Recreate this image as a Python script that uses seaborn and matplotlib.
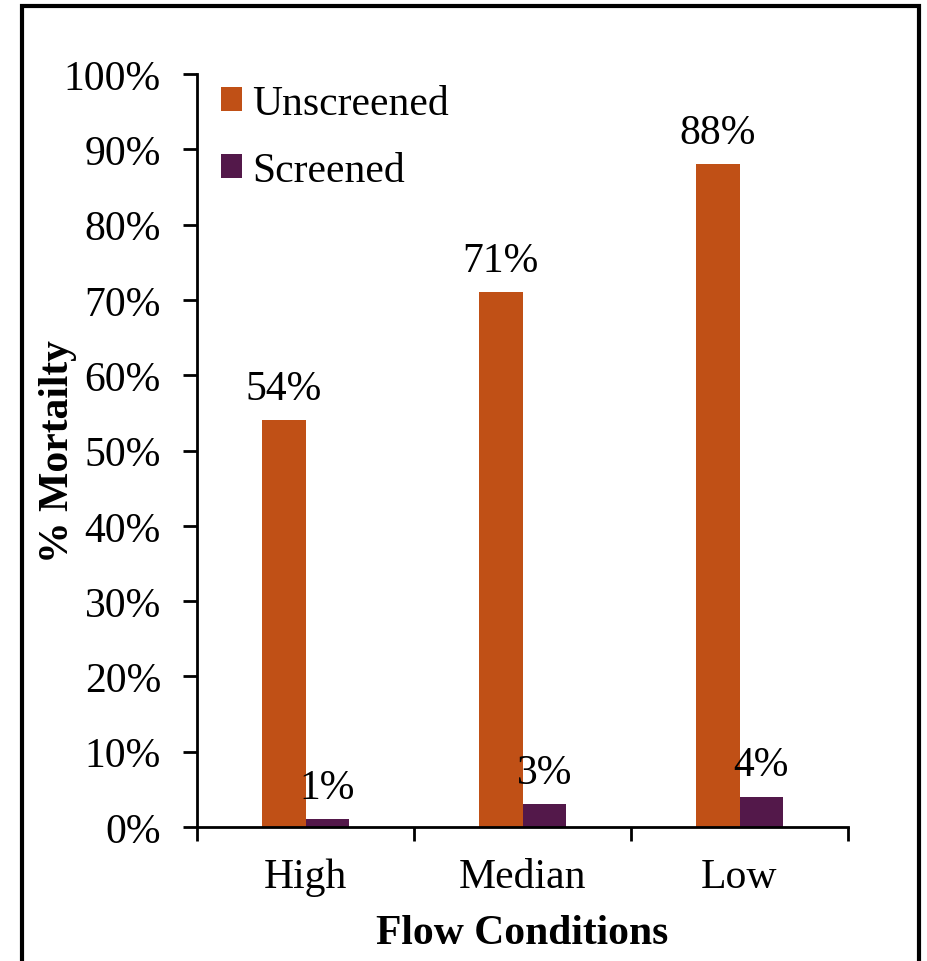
import matplotlib
matplotlib.use("Agg")
import matplotlib.pyplot as plt
import seaborn as sns
import pandas as pd
from matplotlib.patches import Rectangle
from matplotlib.ticker import FixedLocator, PercentFormatter

# Mortality (%) under each flow condition
conditions = ["High", "Median", "Low"]
unscreened = [54, 71, 88]
screened = [1, 3, 4]
series_names = ["Unscreened", "Screened"]
y_ticks = list(range(0, 101, 10))

df = pd.DataFrame({
    "Flow Conditions": conditions * 2,
    "Mortality": unscreened + screened,
    "Series": [series_names[0]] * 3 + [series_names[1]] * 3,
})

sns.set_theme(style="white")
plt.rcParams["font.family"] = ["Liberation Serif", "DejaVu Serif"]
plt.rcParams["font.size"] = 30
for key in ["text.color", "axes.labelcolor", "xtick.color", "ytick.color"]:
    plt.rcParams[key] = "black"

colors = {"Unscreened": "#C05016", "Screened": "#53184A"}
FS = 30

fig = plt.figure(figsize=(9.27, 9.62), dpi=100)
ax = fig.add_axes([197 / 927, 1 - 828 / 962, 651 / 927, 753 / 962])

sns.barplot(data=df, x="Flow Conditions", y="Mortality", hue="Series",
            hue_order=series_names, palette=colors, width=0.4,
            saturation=1, ax=ax, legend=True, linewidth=0)

for container in ax.containers:
    ax.bar_label(container, labels=[f"{v:.0f}%" for v in container.datavalues],
                 padding=9, fontsize=FS, color="black")

ax.set_ylim(0, 100)
ax.set_xlim(-0.5, 2.5)
ax.set_yticks(y_ticks)
ax.yaxis.set_major_formatter(PercentFormatter(decimals=0))
ax.tick_params(axis="y", which="major", direction="out", length=10, width=2,
               labelsize=FS, pad=16, left=True, colors="black")
ax.tick_params(axis="x", which="major", length=0, labelsize=FS, pad=22)
ax.xaxis.set_minor_locator(FixedLocator([-0.5, 0.5, 1.5, 2.5]))
ax.tick_params(axis="x", which="minor", direction="out", length=10, width=2,
               bottom=True, color="black")

for side in ["top", "right"]:
    ax.spines[side].set_visible(False)
for side in ["left", "bottom"]:
    ax.spines[side].set_color("black")
    ax.spines[side].set_linewidth(2)

ax.set_ylabel("% Mortailty", fontsize=FS, fontweight="bold")
ax.yaxis.set_label_coords(-0.185, 0.5)
ax.set_xlabel("Flow Conditions", fontsize=FS, fontweight="bold")
ax.xaxis.set_label_coords(0.5, -0.115)

leg = ax.legend(loc="upper left", bbox_to_anchor=(-0.008, 1.025), frameon=False,
                fontsize=FS, handlelength=0.5, handleheight=0.5,
                handletextpad=0.25, labelspacing=0.68, borderaxespad=0.3)

# outer frame around the figure
fig.patches.append(Rectangle((22 / 927, -0.1), (919 - 22) / 927, 0.1 + 1 - 7 / 962,
                             transform=fig.transFigure, fill=False,
                             edgecolor="black", linewidth=3, clip_on=False))

fig.savefig("out.png", dpi=100)
